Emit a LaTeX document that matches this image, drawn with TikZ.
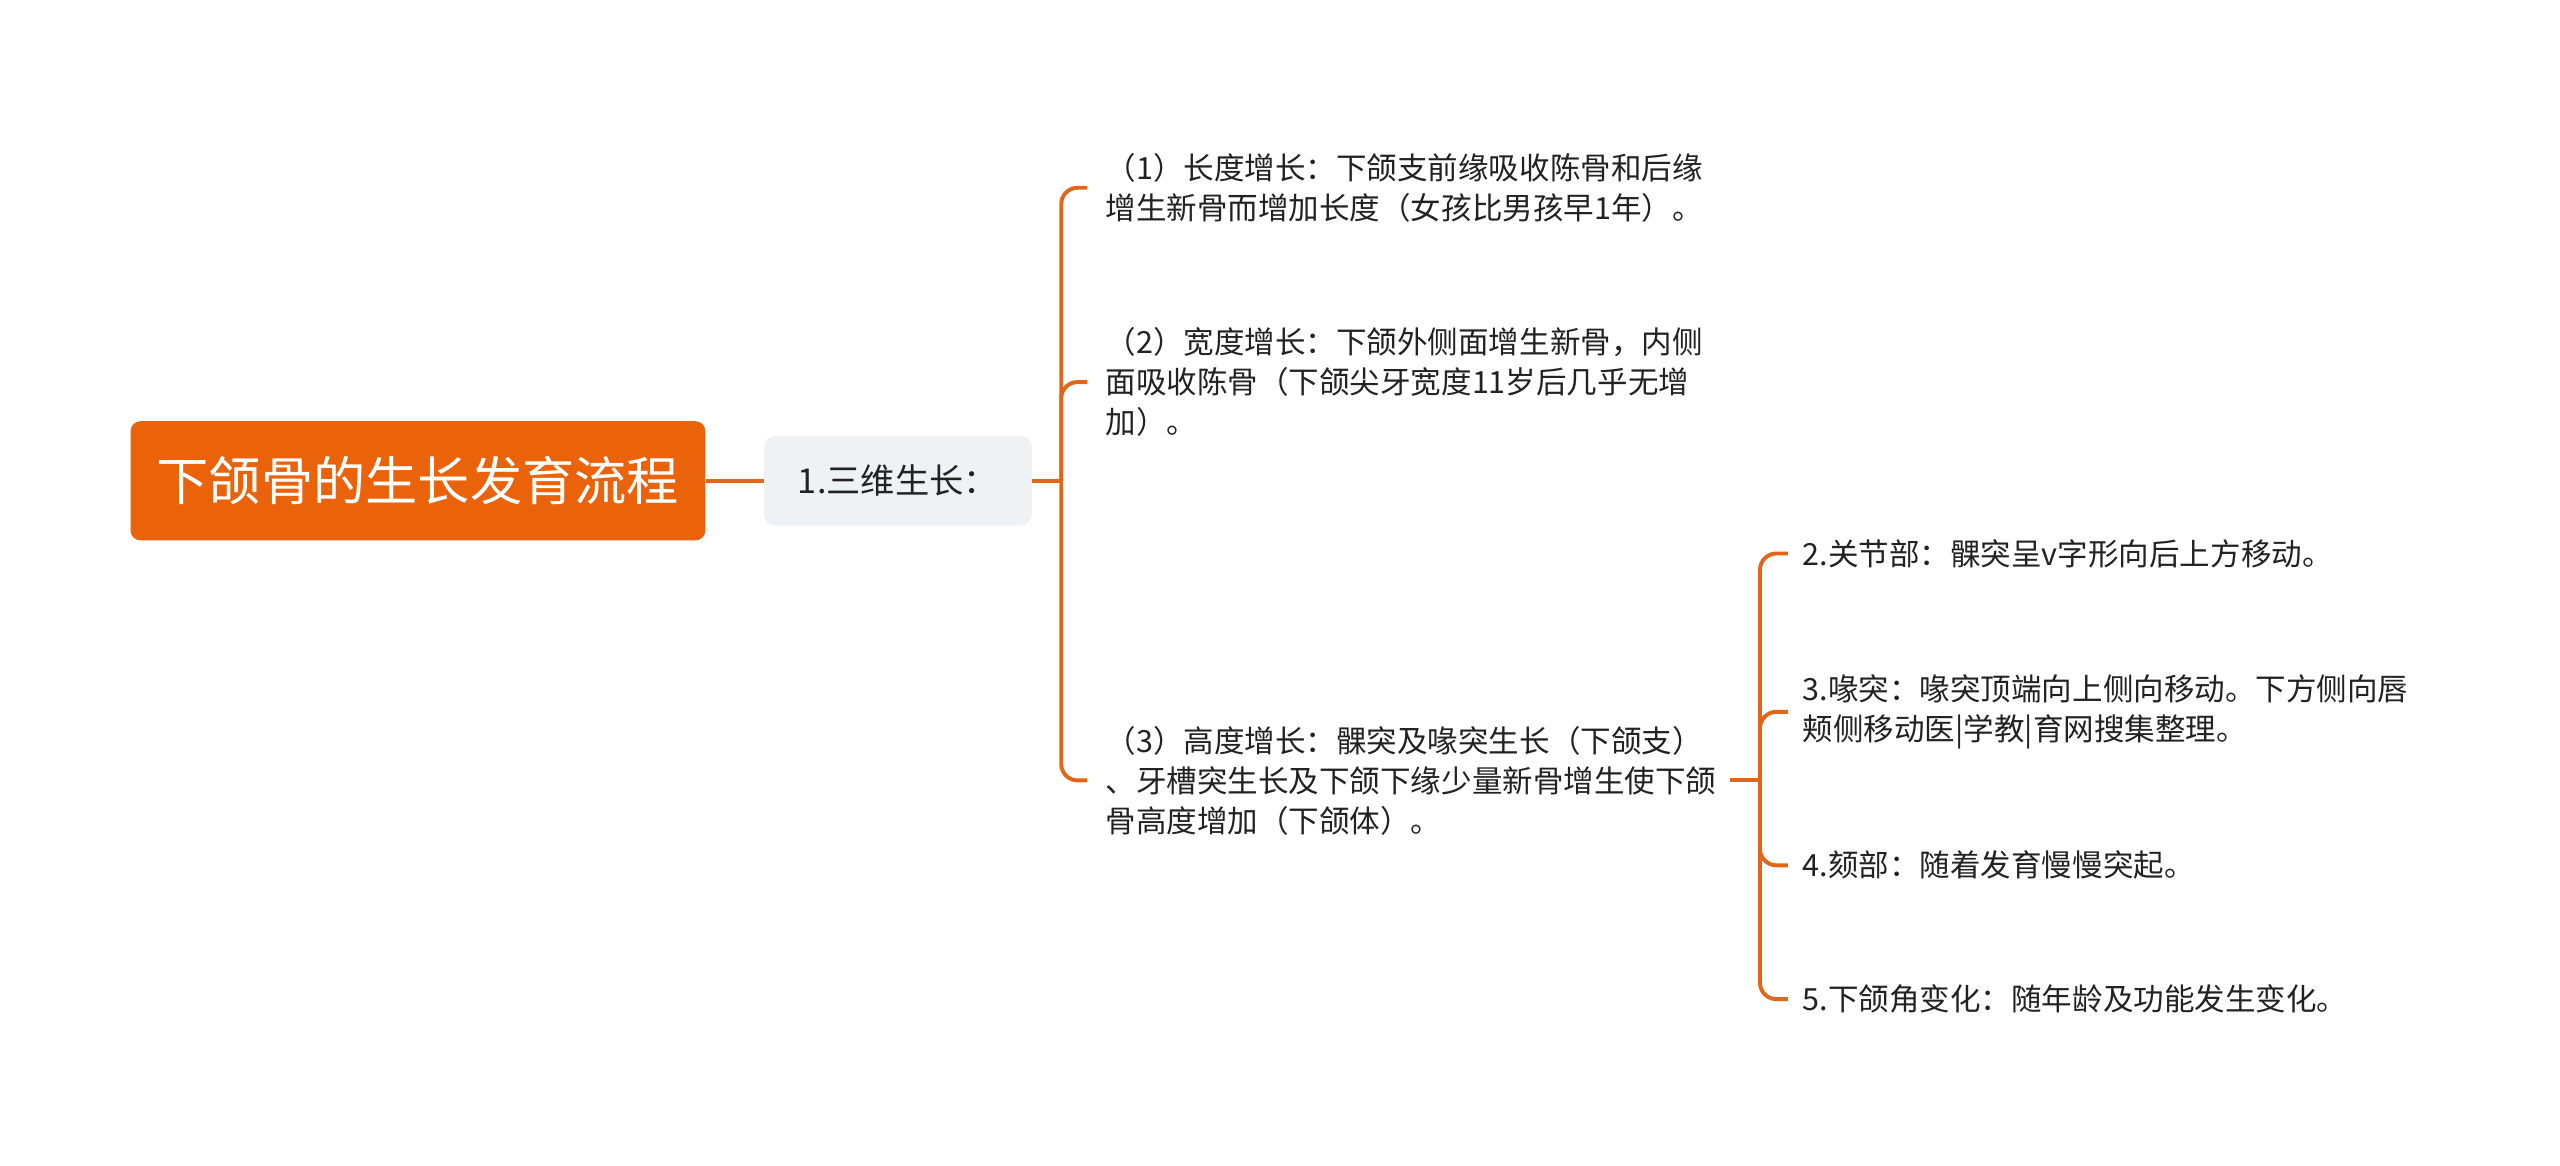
\documentclass[tikz,border=0pt]{standalone}
\usepackage{fontspec}
\setmainfont{Noto Sans CJK SC}
\usepackage{tikz}

\definecolor{rootorange}{RGB}{234,98,10}
\definecolor{linkorange}{RGB}{226,102,26}
\definecolor{childgray}{RGB}{239,242,245}
\definecolor{leaftext}{RGB}{34,34,34}

\begin{document}
\begin{tikzpicture}[
      x=1pt,
      y=-1pt,
      root/.style={
        rectangle,
        rounded corners=6pt,
        fill=rootorange,
        text=white,
        font=\fontsize{32}{36}\selectfont,
        minimum width=352pt,
        minimum height=73pt,
        inner sep=0pt
      },
      topic/.style={
        rectangle,
        rounded corners=7pt,
        fill=childgray,
        text=leaftext,
        font=\fontsize{21}{24}\selectfont,
        minimum width=164pt,
        minimum height=55pt,
        inner sep=0pt
      },
      leaf/.style={
        anchor=west,
        align=left,
        inner sep=0pt,
        text=leaftext,
        font=\fontsize{18.7}{24.5}\selectfont
      },
      link/.style={
        draw=linkorange,
        line width=2.4pt
      },
      elbow/.style={
        link,
        rounded corners=10pt
      }
    ]
      \useasboundingbox (0,0) rectangle (1568,714);

      \node (root) at (256,294.5) [root]{下颌骨的生长发育流程};
      \node (c1) at (550,294.5) [topic]{1.三维生长：};

      \node (l1) at (677,115) [leaf]{（1）长度增长：下颌支前缘吸收陈骨和后缘\\增生新骨而增加长度（女孩比男孩早1年）。};
      \node (l2) at (677,234) [leaf]{（2）宽度增长：下颌外侧面增生新骨，内侧\\面吸收陈骨（下颌尖牙宽度11岁后几乎无增\\加）。};
      \node (l3) at (677,478) [leaf]{（3）高度增长：髁突及喙突生长（下颌支）\\、牙槽突生长及下颌下缘少量新骨增生使下颌\\骨高度增加（下颌体）。};

      \node (m2) at (1104,339) [leaf]{2.关节部：髁突呈v字形向后上方移动。};
      \node (m3) at (1104,436) [leaf]{3.喙突：喙突顶端向上侧向移动。下方侧向唇\\颊侧移动医|学教|育网搜集整理。};
      \node (m4) at (1104,530) [leaf]{4.颏部：随着发育慢慢突起。};
      \node (m5) at (1104,612) [leaf]{5.下颌角变化：随年龄及功能发生变化。};

      \coordinate (b1) at (650,294.5);
      \coordinate (b2) at (1078,478);

      \draw[link] (root) -- (c1);
      \draw[link] (c1.east) -- (b1);
      \draw[elbow] (b1) |- ([xshift=-11pt]l1.west);
      \draw[elbow] (b1) |- ([xshift=-11pt]l2.west);
      \draw[elbow] (b1) |- ([xshift=-11pt]l3.west);

      \draw[link] ([xshift=8pt]l3.east) -- (b2);
      \draw[elbow] (b2) |- ([xshift=-9pt]m2.west);
      \draw[elbow] (b2) |- ([xshift=-9pt]m3.west);
      \draw[elbow] (b2) |- ([xshift=-9pt]m4.west);
      \draw[elbow] (b2) |- ([xshift=-9pt]m5.west);

    \end{tikzpicture}
\end{document}
